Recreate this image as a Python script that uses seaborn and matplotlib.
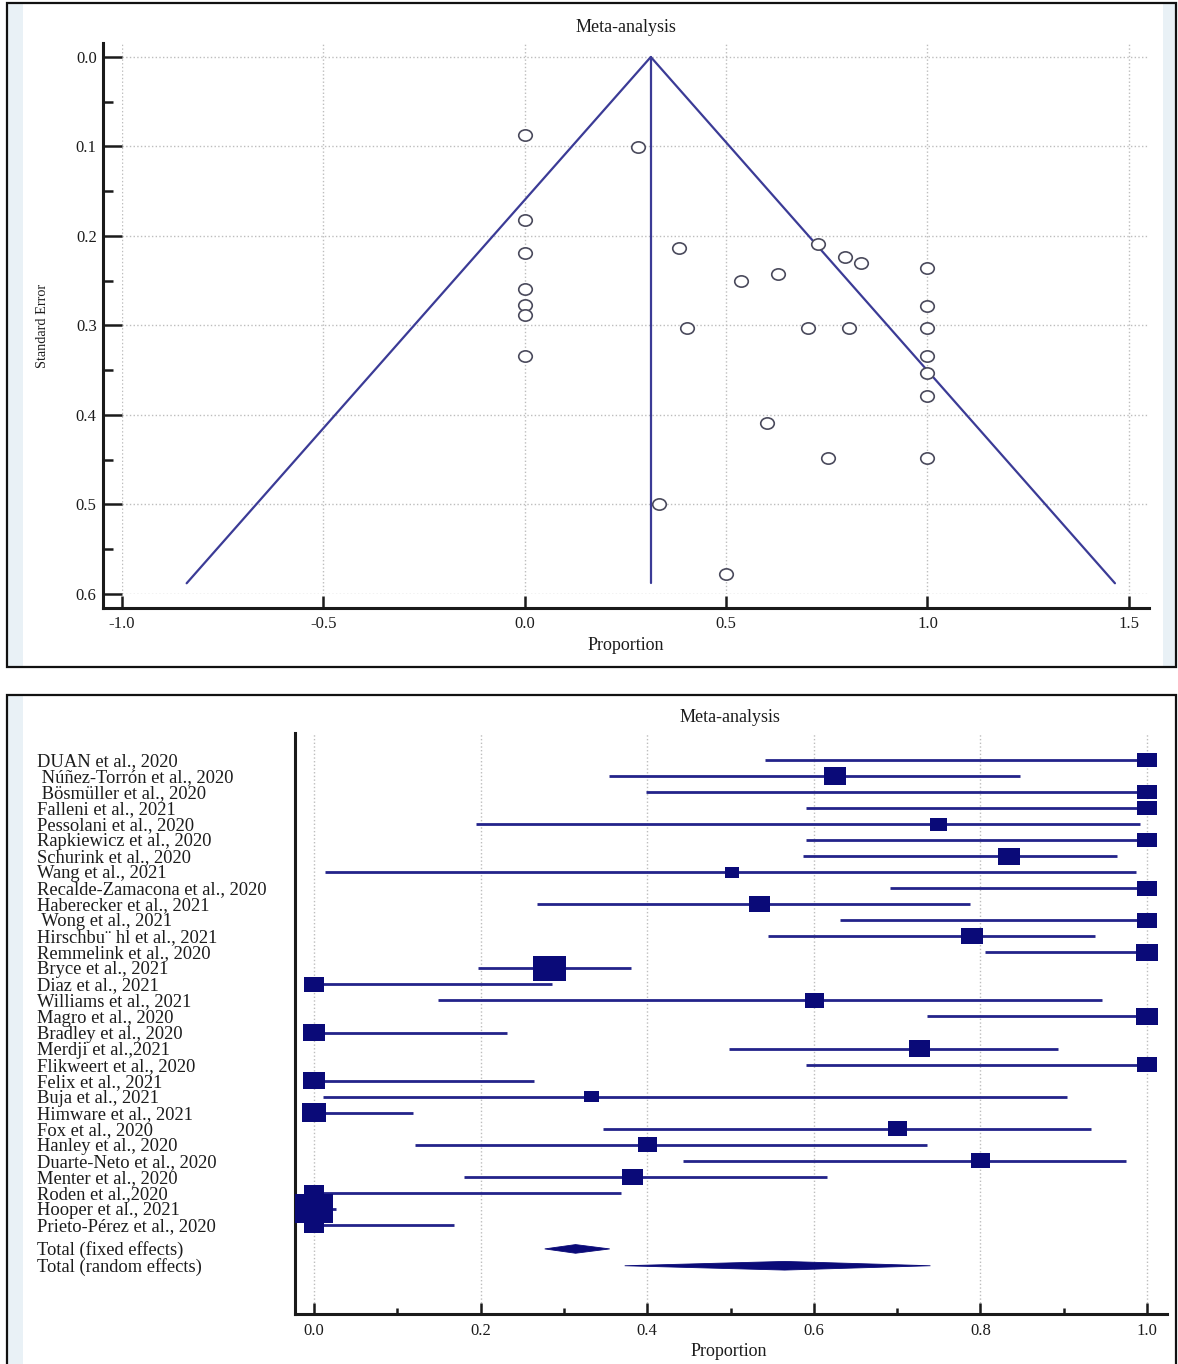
import numpy as np
import pandas as pd
import matplotlib
matplotlib.use("Agg")
import matplotlib.pyplot as plt
import seaborn as sns
from matplotlib.path import Path
from matplotlib.patches import Rectangle, Polygon
from matplotlib.transforms import Affine2D, blended_transform_factory
from matplotlib.ticker import FixedLocator, FormatStrFormatter

# ---------------- data: funnel plot ----------------
funnel_prop = [0.0, 0.28, 0.0, 0.0, 0.0, 0.0, 0.0, 0.0, 0.383, 0.729, 0.794,
               0.836, 1.0, 0.537, 0.629, 1.0, 0.403, 0.704, 0.806, 1.0, 1.0,
               1.0, 1.0, 0.602, 0.754, 1.0, 0.333, 0.5]
funnel_se = [0.087, 0.1005, 0.182, 0.219, 0.259, 0.277, 0.288, 0.334, 0.213,
             0.209, 0.2235, 0.230, 0.236, 0.250, 0.243, 0.278, 0.303, 0.303,
             0.303, 0.303, 0.334, 0.353, 0.379, 0.409, 0.448, 0.448, 0.500, 0.578]
pooled_prop = 0.313
max_se = 0.588

# ---------------- data: forest plot ----------------
studies = ["DUAN et al., 2020", " Núñez-Torrón et al., 2020", " Bösmüller et al., 2020",
           "Falleni et al., 2021", "Pessolani et al., 2020", "Rapkiewicz et al., 2020",
           "Schurink et al., 2020", "Wang et al., 2021", "Recalde-Zamacona et al., 2020",
           "Haberecker et al., 2021", " Wong et al., 2021", "Hirschbu¨ hl et al., 2021",
           "Remmelink et al., 2020", "Bryce et al., 2021", "Diaz et al., 2021",
           "Williams et al., 2021", "Magro et al., 2020", "Bradley et al., 2020",
           "Merdji et al.,2021", "Flikweert et al., 2020", "Felix et al., 2021",
           "Buja et al., 2021", "Himware et al., 2021", "Fox et al., 2020",
           "Hanley et al., 2020", "Duarte-Neto et al., 2020", "Menter et al., 2020",
           "Roden et al.,2020", "Hooper et al., 2021", "Prieto-Pérez et al., 2020"]
est = [1.0, 0.625, 1.0, 1.0, 0.750, 1.0, 0.834, 0.502, 1.0, 0.535, 1.0, 0.790,
       1.0, 0.283, 0.0, 0.601, 1.0, 0.0, 0.727, 1.0, 0.0, 0.333, 0.0, 0.700,
       0.400, 0.800, 0.382, 0.0, 0.0, 0.0]
ci_low = [0.542, 0.354, 0.399, 0.591, 0.195, 0.591, 0.587, 0.0135, 0.692, 0.268,
          0.631, 0.545, 0.806, 0.197, 0.0, 0.149, 0.736, 0.0, 0.498, 0.591, 0.0,
          0.0104, 0.0, 0.347, 0.121, 0.443, 0.180, 0.0, 0.0, 0.0]
ci_high = [1.0, 0.848, 1.0, 1.0, 0.992, 1.0, 0.964, 0.987, 1.0, 0.788, 1.0, 0.937,
           1.0, 0.381, 0.286, 0.946, 1.0, 0.232, 0.893, 1.0, 0.264, 0.904, 0.119,
           0.933, 0.736, 0.975, 0.616, 0.368, 0.027, 0.168]
weight = [2.5, 3.4, 2.5, 2.5, 2.0, 2.5, 3.4, 1.4, 2.5, 3.1, 2.5, 3.1, 3.1, 7.5,
          2.5, 2.5, 3.2, 3.3, 3.1, 2.5, 3.1, 1.5, 4.0, 2.5, 2.5, 2.5, 3.1, 2.6,
          10.0, 2.8]
total_labels = ["Total (fixed effects)", "Total (random effects)"]
total_est = [0.314, 0.565]
total_low = [0.277, 0.373]
total_high = [0.355, 0.740]

# ---------------- style ----------------
sns.set_theme(style="white")
plt.rcParams['font.family'] = ['Liberation Serif', 'DejaVu Serif']
plt.rcParams['axes.unicode_minus'] = False

W, H = 1178, 1364
fig = plt.figure(figsize=(W / 100, H / 100), dpi=100)
fig.patch.set_facecolor('white')

txt_col = '#1c1c1c'
funnel_col = '#3b3b96'
navy = '#0a0a78'
bar_col = '#23238a'
strip_col = '#e9f1f6'
tick_fs = 12
title_fs = 13


def fx(px):
    return px / W


def fy(py):
    return 1 - py / H


# panel borders and side strips
for (x0, y0, x1, y1) in [(7, 3, 1176, 667), (7, 695, 1176, 1370)]:
    fig.add_artist(Rectangle((fx(x0), fy(y1)), fx(x1 - x0), (y1 - y0) / H,
                             transform=fig.transFigure, facecolor='none',
                             edgecolor='#111111', linewidth=1.6, zorder=5))
fig.add_artist(Rectangle((fx(8), fy(666)), fx(15), 663 / H, transform=fig.transFigure,
                         facecolor=strip_col, edgecolor='none', zorder=-1))
fig.add_artist(Rectangle((fx(1163), fy(666)), fx(12), 663 / H, transform=fig.transFigure,
                         facecolor=strip_col, edgecolor='none', zorder=-1))
fig.add_artist(Rectangle((fx(8), fy(1364)), fx(15), 668 / H, transform=fig.transFigure,
                         facecolor=strip_col, edgecolor='none', zorder=-1))

# ---------------- top: funnel plot ----------------
ax1 = fig.add_axes([fx(122), fy(594), fx(1149 - 122), (594 - 43) / H])
ax1.set_facecolor('white')
ax1.set_xlim(-1.0, 1.55)
ax1.set_ylim(0.6, -0.0156)

ax1.xaxis.set_major_locator(FixedLocator([-1.0, -0.5, 0.0, 0.5, 1.0, 1.5]))
ax1.yaxis.set_major_locator(FixedLocator([0.0, 0.1, 0.2, 0.3, 0.4, 0.5, 0.6]))
ax1.yaxis.set_minor_locator(FixedLocator([0.05, 0.15, 0.25, 0.35, 0.45, 0.55]))
ax1.xaxis.set_major_formatter(FormatStrFormatter('%.1f'))
ax1.yaxis.set_major_formatter(FormatStrFormatter('%.1f'))
ax1.grid(True, which='major', color='#bdbdbd', linestyle=':', linewidth=1.0)

for s in ['top', 'right']:
    ax1.spines[s].set_visible(False)
ax1.spines['left'].set_position(('outward', 13.7))
ax1.spines['bottom'].set_position(('outward', 10))
for s in ['left', 'bottom']:
    ax1.spines[s].set_linewidth(2.2)
    ax1.spines[s].set_color('#1a1a1a')
ax1.spines['left'].set_bounds(-0.0156, 0.6156)
ax1.spines['bottom'].set_bounds(-1.047, 1.55)

ax1.tick_params(axis='y', which='major', direction='in', length=13.5, width=1.8,
                color='#1a1a1a', pad=4.5, labelsize=tick_fs, labelcolor=txt_col, left=True)
ax1.tick_params(axis='y', which='minor', direction='in', length=7.5, width=1.8,
                color='#1a1a1a', left=True)
ax1.tick_params(axis='x', which='major', direction='in', length=8.5, width=1.8,
                color='#1a1a1a', pad=6, labelsize=tick_fs, labelcolor=txt_col, bottom=True)

# funnel lines
ax1.plot([pooled_prop - 1.96 * max_se, pooled_prop, pooled_prop + 1.96 * max_se],
         [max_se, 0.0, max_se], color=funnel_col, lw=1.6, zorder=2)
ax1.plot([pooled_prop, pooled_prop], [0.0, max_se], color=funnel_col, lw=1.6, zorder=2)

ellipse = Path.unit_circle().transformed(Affine2D().scale(1.2, 1.0))
fdf = pd.DataFrame({'prop': funnel_prop, 'se': funnel_se})
sns.scatterplot(data=fdf, x='prop', y='se', ax=ax1, marker=ellipse, s=95,
                facecolor='white', edgecolor='#4a4a5c', linewidth=1.2, zorder=3,
                legend=False)
ax1.set_xlabel('')
ax1.set_ylabel('')

fig.text(fx(626), fy(27), 'Meta-analysis', ha='center', va='center',
         fontsize=title_fs, color=txt_col)
fig.text(fx(626), fy(645), 'Proportion', ha='center', va='center',
         fontsize=title_fs, color=txt_col)
fig.text(fx(42), fy(326), 'Standard Error', ha='center', va='center', rotation=90,
         fontsize=10.3, color=txt_col)

# ---------------- bottom: forest plot ----------------
ax2 = fig.add_axes([fx(295), fy(1314), fx(1167 - 295), (1314 - 733) / H])
ax2.set_facecolor('white')
ax2.set_xlim(-0.0228, 1.024)
ax2.set_ylim(34.56, -1.684)

rows = np.arange(len(studies))
ax2.xaxis.set_major_locator(FixedLocator([0.0, 0.2, 0.4, 0.6, 0.8, 1.0]))
ax2.xaxis.set_minor_locator(FixedLocator([0.1, 0.3, 0.5, 0.7, 0.9]))
ax2.xaxis.set_major_formatter(FormatStrFormatter('%.1f'))
ax2.set_yticks([])
ax2.grid(True, axis='x', which='major', color='#bdbdbd', linestyle=':', linewidth=1.0)
for s in ['top', 'right']:
    ax2.spines[s].set_visible(False)
for s in ['left', 'bottom']:
    ax2.spines[s].set_linewidth(2.2)
    ax2.spines[s].set_color('#1a1a1a')
ax2.tick_params(axis='x', which='major', direction='in', length=8, width=1.8,
                color='#1a1a1a', pad=6.5, labelsize=tick_fs, labelcolor=txt_col, bottom=True)
ax2.tick_params(axis='x', which='minor', direction='in', length=4.3, width=1.8,
                color='#1a1a1a', bottom=True)

ax2.hlines(rows, ci_low, ci_high, color=bar_col, lw=2.0, zorder=2)

square = Path([(-1.3, -1), (1.3, -1), (1.3, 1), (-1.3, 1), (-1.3, -1)],
              [Path.MOVETO, Path.LINETO, Path.LINETO, Path.LINETO, Path.CLOSEPOLY])
sdf = pd.DataFrame({'est': est, 'row': rows, 'weight': weight})
sns.scatterplot(data=sdf, x='est', y='row', size='weight', sizes=(0, 750),
                size_norm=(0, 10), marker=square, color=navy, edgecolor=navy,
                linewidth=0, zorder=3, legend=False, ax=ax2)
ax2.set_xlabel('')
ax2.set_ylabel('')

total_rows = [30.5, 31.55]
for yv, lo, ce, hi in zip(total_rows, total_low, total_est, total_high):
    h = 0.27
    ax2.add_patch(Polygon([(lo, yv), (ce, yv - h), (hi, yv), (ce, yv + h)],
                          closed=True, facecolor=navy, edgecolor=navy, lw=0.6,
                          zorder=3))

lab_tr = blended_transform_factory(fig.transFigure, ax2.transData)
for r, name in zip(rows, studies):
    ax2.text(fx(37), r + 0.1, name, transform=lab_tr, ha='left', va='center',
             fontsize=13.3, color=txt_col, clip_on=False)
for yv, name in zip(total_rows, total_labels):
    ax2.text(fx(37), yv + 0.1, name, transform=lab_tr, ha='left', va='center',
             fontsize=13.3, color=txt_col, clip_on=False)

fig.text(fx(730), fy(718), 'Meta-analysis', ha='center', va='center',
         fontsize=title_fs, color=txt_col)
fig.text(fx(729), fy(1352), 'Proportion', ha='center', va='center',
         fontsize=title_fs, color=txt_col)

fig.savefig('out.png', dpi=100, facecolor='white')
